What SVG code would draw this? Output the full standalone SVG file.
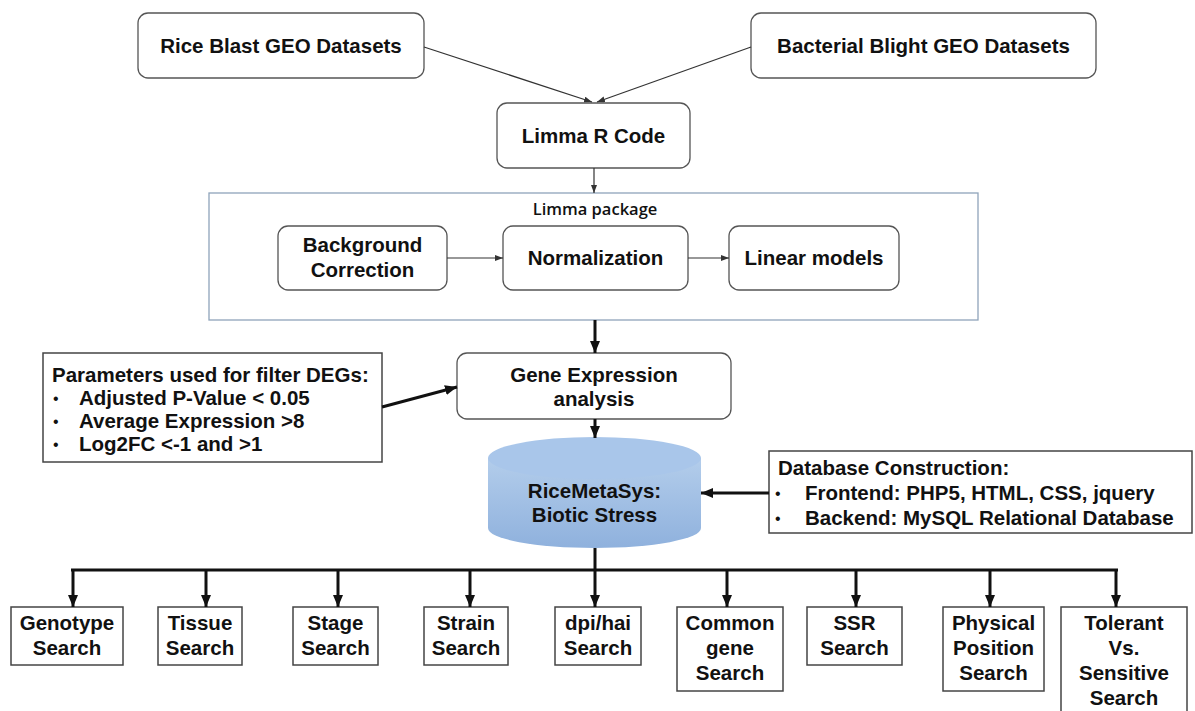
<svg xmlns="http://www.w3.org/2000/svg" width="1195" height="711" viewBox="0 0 1195 711">
<style>
.t{font-family:"Liberation Sans",Arial,sans-serif;font-weight:bold;font-size:20.5px;fill:#111;}
.c{text-anchor:middle;}
.b{font-family:"Liberation Sans",Arial,sans-serif;font-size:16px;fill:#111;}
.lp{font-family:"Open Sans","Liberation Sans",sans-serif;font-weight:600;font-size:16.5px;fill:#111;text-anchor:middle;}
.rb{fill:#fff;stroke:#555;stroke-width:1.3;}
.sq{fill:#fff;stroke:#444;stroke-width:1.5;}
.thin{stroke:#333;stroke-width:1.2;fill:none;}
.thick{stroke:#111;stroke-width:3;fill:none;}
</style>
<defs>
<marker id="ah" markerUnits="userSpaceOnUse" markerWidth="8" markerHeight="6" refX="8" refY="3" orient="auto"><path d="M0,0 L8,3 L0,6 z" fill="#333"/></marker>
<marker id="ahb" markerUnits="userSpaceOnUse" markerWidth="12" markerHeight="10" refX="12" refY="5" orient="auto"><path d="M0,0 L12,5 L0,10 z" fill="#111"/></marker>
<linearGradient id="cyl" x1="0" y1="0" x2="0" y2="1"><stop offset="0" stop-color="#b3cdeb"/><stop offset="1" stop-color="#8fb1dd"/></linearGradient>
</defs>

<g id="rice-blast">
<rect class="rb" x="138" y="13" width="286" height="65" rx="10"/>
<text class="t c" x="281" y="53">Rice Blast GEO Datasets</text>
</g>
<g id="bacterial-blight">
<rect class="rb" x="751" y="13" width="345" height="65" rx="10"/>
<text class="t c" x="923.5" y="53">Bacterial Blight GEO Datasets</text>
</g>
<g id="limma-r-code">
<rect class="rb" x="497" y="103" width="193" height="65" rx="10"/>
<text class="t c" x="593.5" y="143">Limma R Code</text>
</g>
<g id="limma-package">
<rect x="209" y="193" width="769" height="127" fill="#fff" stroke="#8fa4ba" stroke-width="1.3"/>
<text class="lp" x="595" y="215">Limma package</text>
</g>
<g id="background-correction">
<rect class="rb" x="278" y="226" width="169" height="64" rx="10"/>
<text class="t c" x="362.5" y="252">Background</text>
<text class="t c" x="362.5" y="277">Correction</text>
</g>
<g id="normalization">
<rect class="rb" x="503" y="226" width="185" height="64" rx="10"/>
<text class="t c" x="595.5" y="265">Normalization</text>
</g>
<g id="linear-models">
<rect class="rb" x="729" y="226" width="170" height="64" rx="10"/>
<text class="t c" x="814" y="265">Linear models</text>
</g>
<g id="gene-expression">
<rect class="rb" x="457" y="353" width="274" height="66" rx="10"/>
<text class="t c" x="594" y="382">Gene Expression</text>
<text class="t c" x="594" y="406">analysis</text>
</g>
<g id="parameters">
<rect class="sq" x="43" y="353" width="339" height="109"/>
<text class="t" x="52" y="382">Parameters used for filter DEGs:</text>
<text class="b" x="53" y="404">•</text><text class="t" x="79" y="405">Adjusted P-Value &lt; 0.05</text>
<text class="b" x="53" y="427">•</text><text class="t" x="79" y="428">Average Expression &gt;8</text>
<text class="b" x="53" y="450">•</text><text class="t" x="79" y="451">Log2FC &lt;-1 and &gt;1</text>
</g>
<g id="ricemetasys">
<path d="M488,458 L488,528 A106.5,20 0 0 0 701,528 L701,458 z" fill="url(#cyl)"/>
<ellipse cx="594.5" cy="458" rx="106.5" ry="21" fill="#a9c6ea"/>
<text class="t c" x="594.5" y="498">RiceMetaSys:</text>
<text class="t c" x="594.5" y="522">Biotic Stress</text>
</g>
<g id="database-construction">
<rect class="sq" x="769" y="451" width="423" height="82"/>
<text class="t" x="778" y="475">Database Construction:</text>
<text class="b" x="775" y="499">•</text><text class="t" x="805" y="500">Frontend: PHP5, HTML, CSS, jquery</text>
<text class="b" x="775" y="524">•</text><text class="t" x="805" y="525">Backend: MySQL Relational Database</text>
</g>
<g id="genotype-search">
<rect class="sq" x="11" y="607" width="112" height="58"/>
<text class="t c" x="67" y="630">Genotype</text><text class="t c" x="67" y="655">Search</text>
</g>
<g id="tissue-search">
<rect class="sq" x="158" y="607" width="84" height="58"/>
<text class="t c" x="200" y="630">Tissue</text><text class="t c" x="200" y="655">Search</text>
</g>
<g id="stage-search">
<rect class="sq" x="293" y="607" width="85" height="58"/>
<text class="t c" x="335.5" y="630">Stage</text><text class="t c" x="335.5" y="655">Search</text>
</g>
<g id="strain-search">
<rect class="sq" x="424" y="607" width="84" height="58"/>
<text class="t c" x="466" y="630">Strain</text><text class="t c" x="466" y="655">Search</text>
</g>
<g id="dpi-hai-search">
<rect class="sq" x="555" y="607" width="86" height="58"/>
<text class="t c" x="598" y="630">dpi/hai</text><text class="t c" x="598" y="655">Search</text>
</g>
<g id="common-gene-search">
<rect class="sq" x="677" y="607" width="106" height="84"/>
<text class="t c" x="730" y="630">Common</text><text class="t c" x="730" y="655">gene</text><text class="t c" x="730" y="680">Search</text>
</g>
<g id="ssr-search">
<rect class="sq" x="807" y="607" width="95" height="58"/>
<text class="t c" x="854.5" y="630">SSR</text><text class="t c" x="854.5" y="655">Search</text>
</g>
<g id="physical-position-search">
<rect class="sq" x="943" y="607" width="101" height="84"/>
<text class="t c" x="993.5" y="630">Physical</text><text class="t c" x="993.5" y="655">Position</text><text class="t c" x="993.5" y="680">Search</text>
</g>
<g id="tolerant-vs-sensitive-search">
<rect class="sq" x="1061" y="607" width="126" height="110"/>
<text class="t c" x="1124" y="630">Tolerant</text><text class="t c" x="1124" y="655">Vs.</text><text class="t c" x="1124" y="680">Sensitive</text><text class="t c" x="1124" y="705">Search</text>
</g>

<g id="connectors">
<line class="thin" x1="424" y1="47" x2="592" y2="102" marker-end="url(#ah)"/>
<line class="thin" x1="751" y1="47" x2="597" y2="102" marker-end="url(#ah)"/>
<line class="thin" x1="594" y1="168" x2="594" y2="193" marker-end="url(#ah)"/>
<line class="thin" x1="447" y1="258" x2="503" y2="258" marker-end="url(#ah)"/>
<line class="thin" x1="688" y1="258" x2="729" y2="258" marker-end="url(#ah)"/>
<line class="thick" x1="595" y1="320" x2="595" y2="353" marker-end="url(#ahb)"/>
<line class="thick" x1="382" y1="407" x2="457" y2="387" marker-end="url(#ahb)"/>
<line class="thick" x1="595" y1="419" x2="595" y2="438" stroke-width="2" marker-end="url(#ahb)"/>
<line class="thick" x1="769" y1="493" x2="701" y2="493" marker-end="url(#ahb)"/>
<line class="thick" x1="595" y1="548" x2="595" y2="570"/>
<line class="thick" x1="71" y1="570" x2="1118" y2="570" stroke-width="4.5"/>
<line class="thick" x1="73" y1="570" x2="73" y2="607" stroke-width="2.5" marker-end="url(#ahb)"/>
<line class="thick" x1="206" y1="570" x2="206" y2="607" stroke-width="2.5" marker-end="url(#ahb)"/>
<line class="thick" x1="338" y1="570" x2="338" y2="607" stroke-width="2.5" marker-end="url(#ahb)"/>
<line class="thick" x1="470" y1="570" x2="470" y2="607" stroke-width="2.5" marker-end="url(#ahb)"/>
<line class="thick" x1="595" y1="570" x2="595" y2="607" stroke-width="2.5" marker-end="url(#ahb)"/>
<line class="thick" x1="727" y1="570" x2="727" y2="607" stroke-width="2.5" marker-end="url(#ahb)"/>
<line class="thick" x1="856" y1="570" x2="856" y2="607" stroke-width="2.5" marker-end="url(#ahb)"/>
<line class="thick" x1="990" y1="570" x2="990" y2="607" stroke-width="2.5" marker-end="url(#ahb)"/>
<line class="thick" x1="1116" y1="570" x2="1116" y2="607" stroke-width="2.5" marker-end="url(#ahb)"/>
</g>
</svg>
